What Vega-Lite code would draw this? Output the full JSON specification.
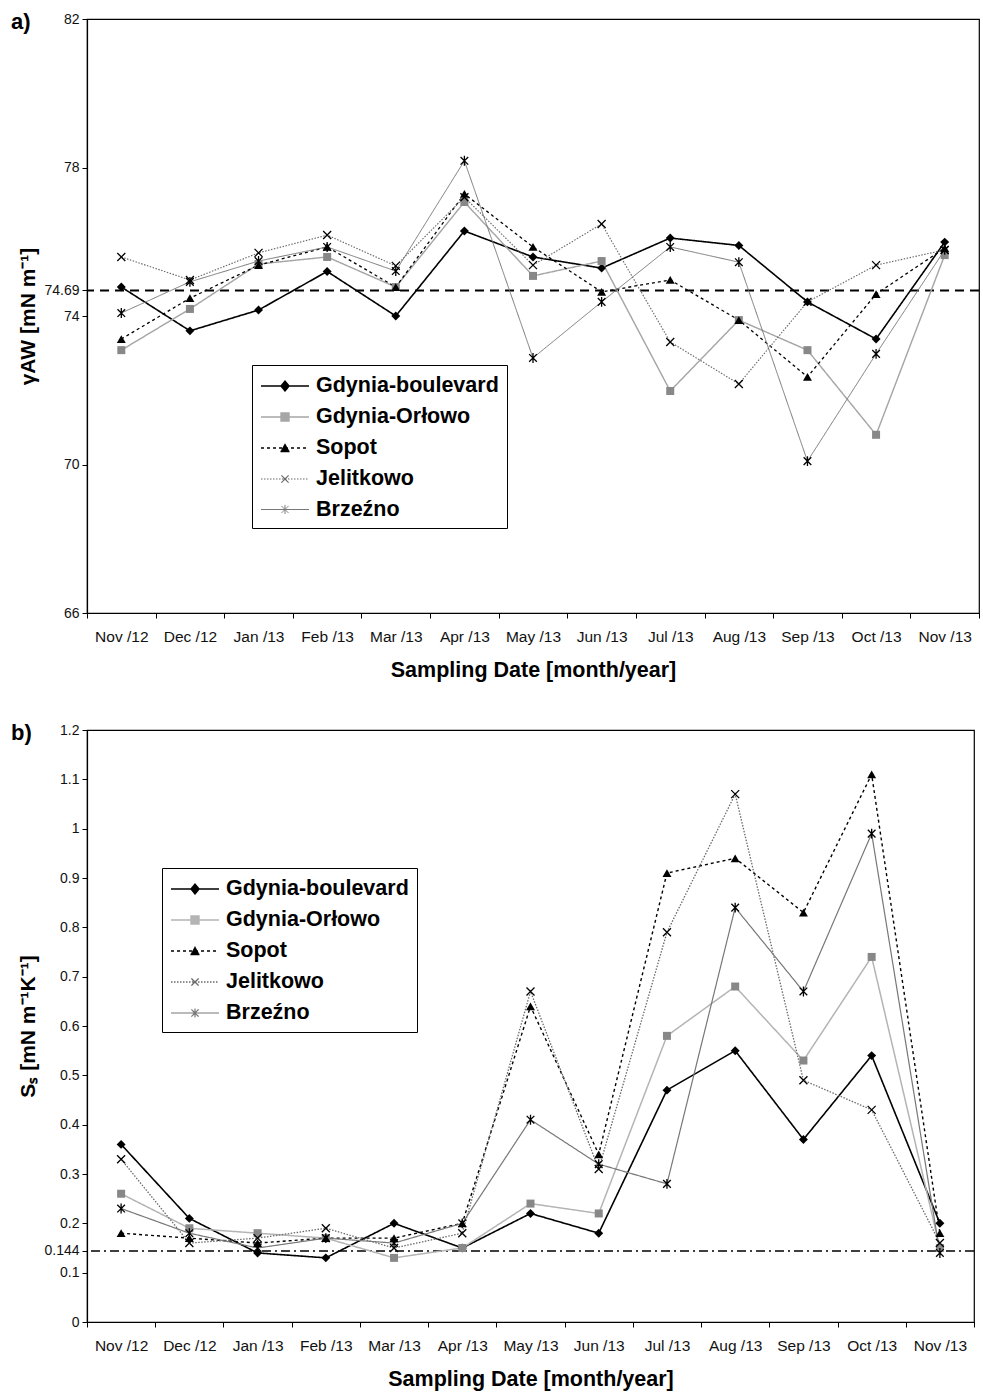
{
  "$schema": "https://vega.github.io/schema/vega-lite/v6.json",
  "padding": {"left": 10, "top": 10, "right": 2, "bottom": 2},
  "background": "white",
  "config": {
    "font": "Liberation Sans",
    "view": {"stroke": "black", "strokeWidth": 1.2},
    "axis": {"grid": false, "domainColor": "black", "domainWidth": 1.2, "tickColor": "black", "tickSize": 5, "labelColor": "#111", "labelFont": "Liberation Sans", "labelFontSize": 14, "titleFont": "Liberation Sans", "titleFontSize": 21, "titleFontWeight": "bold", "titleColor": "black"},
    "axisX": {"labelFontSize": 15.5, "titleFontSize": 21.5},
    "legend": {"orient": "none", "labelFont": "Liberation Sans", "labelFontSize": 21.5, "labelFontWeight": "bold", "labelColor": "black", "labelLimit": 400, "rowPadding": 7, "symbolSize": 576, "symbolOffset": 12, "labelOffset": 18, "padding": 8, "strokeColor": "black", "fillColor": "white"},
    "concat": {"spacing": 39}
  },
  "resolve": {
    "scale": {"color": "independent", "strokeDash": "independent", "strokeWidth": "independent", "shape": "independent", "fill": "independent"},
    "legend": {"color": "independent", "strokeDash": "independent", "strokeWidth": "independent", "shape": "independent", "fill": "independent"}
  },
  "datasets": {
    "a": [
      {"m":"Nov /12","s":"Gdynia-boulevard","v":74.78},{"m":"Dec /12","s":"Gdynia-boulevard","v":73.6},{"m":"Jan /13","s":"Gdynia-boulevard","v":74.16},{"m":"Feb /13","s":"Gdynia-boulevard","v":75.2},{"m":"Mar /13","s":"Gdynia-boulevard","v":74.0},{"m":"Apr /13","s":"Gdynia-boulevard","v":76.29},{"m":"May /13","s":"Gdynia-boulevard","v":75.59},{"m":"Jun /13","s":"Gdynia-boulevard","v":75.29},{"m":"Jul /13","s":"Gdynia-boulevard","v":76.1},{"m":"Aug /13","s":"Gdynia-boulevard","v":75.9},{"m":"Sep /13","s":"Gdynia-boulevard","v":74.38},{"m":"Oct /13","s":"Gdynia-boulevard","v":73.38},{"m":"Nov /13","s":"Gdynia-boulevard","v":75.99},
      {"m":"Nov /12","s":"Gdynia-Orłowo","v":73.08},{"m":"Dec /12","s":"Gdynia-Orłowo","v":74.19},{"m":"Jan /13","s":"Gdynia-Orłowo","v":75.4},{"m":"Feb /13","s":"Gdynia-Orłowo","v":75.59},{"m":"Mar /13","s":"Gdynia-Orłowo","v":74.78},{"m":"Apr /13","s":"Gdynia-Orłowo","v":77.07},{"m":"May /13","s":"Gdynia-Orłowo","v":75.08},{"m":"Jun /13","s":"Gdynia-Orłowo","v":75.48},{"m":"Jul /13","s":"Gdynia-Orłowo","v":71.98},{"m":"Aug /13","s":"Gdynia-Orłowo","v":73.89},{"m":"Sep /13","s":"Gdynia-Orłowo","v":73.08},{"m":"Oct /13","s":"Gdynia-Orłowo","v":70.8},{"m":"Nov /13","s":"Gdynia-Orłowo","v":75.64},
      {"m":"Nov /12","s":"Sopot","v":73.38},{"m":"Dec /12","s":"Sopot","v":74.48},{"m":"Jan /13","s":"Sopot","v":75.37},{"m":"Feb /13","s":"Sopot","v":75.86},{"m":"Mar /13","s":"Sopot","v":74.78},{"m":"Apr /13","s":"Sopot","v":77.29},{"m":"May /13","s":"Sopot","v":75.86},{"m":"Jun /13","s":"Sopot","v":74.65},{"m":"Jul /13","s":"Sopot","v":74.97},{"m":"Aug /13","s":"Sopot","v":73.89},{"m":"Sep /13","s":"Sopot","v":72.36},{"m":"Oct /13","s":"Sopot","v":74.59},{"m":"Nov /13","s":"Sopot","v":75.83},
      {"m":"Nov /12","s":"Jelitkowo","v":75.59},{"m":"Dec /12","s":"Jelitkowo","v":74.97},{"m":"Jan /13","s":"Jelitkowo","v":75.7},{"m":"Feb /13","s":"Jelitkowo","v":76.18},{"m":"Mar /13","s":"Jelitkowo","v":75.35},{"m":"Apr /13","s":"Jelitkowo","v":77.2},{"m":"May /13","s":"Jelitkowo","v":75.37},{"m":"Jun /13","s":"Jelitkowo","v":76.48},{"m":"Jul /13","s":"Jelitkowo","v":73.3},{"m":"Aug /13","s":"Jelitkowo","v":72.17},{"m":"Sep /13","s":"Jelitkowo","v":74.38},{"m":"Oct /13","s":"Jelitkowo","v":75.37},{"m":"Nov /13","s":"Jelitkowo","v":75.78},
      {"m":"Nov /12","s":"Brzeźno","v":74.08},{"m":"Dec /12","s":"Brzeźno","v":74.92},{"m":"Jan /13","s":"Brzeźno","v":75.48},{"m":"Feb /13","s":"Brzeźno","v":75.86},{"m":"Mar /13","s":"Brzeźno","v":75.21},{"m":"Apr /13","s":"Brzeźno","v":78.18},{"m":"May /13","s":"Brzeźno","v":72.87},{"m":"Jun /13","s":"Brzeźno","v":74.38},{"m":"Jul /13","s":"Brzeźno","v":75.86},{"m":"Aug /13","s":"Brzeźno","v":75.45},{"m":"Sep /13","s":"Brzeźno","v":70.09},{"m":"Oct /13","s":"Brzeźno","v":72.98},{"m":"Nov /13","s":"Brzeźno","v":75.78}
    ],
    "b": [
      {"m":"Nov /12","s":"Gdynia-boulevard","v":0.36},{"m":"Dec /12","s":"Gdynia-boulevard","v":0.21},{"m":"Jan /13","s":"Gdynia-boulevard","v":0.14},{"m":"Feb /13","s":"Gdynia-boulevard","v":0.13},{"m":"Mar /13","s":"Gdynia-boulevard","v":0.2},{"m":"Apr /13","s":"Gdynia-boulevard","v":0.15},{"m":"May /13","s":"Gdynia-boulevard","v":0.22},{"m":"Jun /13","s":"Gdynia-boulevard","v":0.18},{"m":"Jul /13","s":"Gdynia-boulevard","v":0.47},{"m":"Aug /13","s":"Gdynia-boulevard","v":0.55},{"m":"Sep /13","s":"Gdynia-boulevard","v":0.37},{"m":"Oct /13","s":"Gdynia-boulevard","v":0.54},{"m":"Nov /13","s":"Gdynia-boulevard","v":0.2},
      {"m":"Nov /12","s":"Gdynia-Orłowo","v":0.26},{"m":"Dec /12","s":"Gdynia-Orłowo","v":0.19},{"m":"Jan /13","s":"Gdynia-Orłowo","v":0.18},{"m":"Feb /13","s":"Gdynia-Orłowo","v":0.17},{"m":"Mar /13","s":"Gdynia-Orłowo","v":0.13},{"m":"Apr /13","s":"Gdynia-Orłowo","v":0.15},{"m":"May /13","s":"Gdynia-Orłowo","v":0.24},{"m":"Jun /13","s":"Gdynia-Orłowo","v":0.22},{"m":"Jul /13","s":"Gdynia-Orłowo","v":0.58},{"m":"Aug /13","s":"Gdynia-Orłowo","v":0.68},{"m":"Sep /13","s":"Gdynia-Orłowo","v":0.53},{"m":"Oct /13","s":"Gdynia-Orłowo","v":0.74},{"m":"Nov /13","s":"Gdynia-Orłowo","v":0.15},
      {"m":"Nov /12","s":"Sopot","v":0.18},{"m":"Dec /12","s":"Sopot","v":0.17},{"m":"Jan /13","s":"Sopot","v":0.16},{"m":"Feb /13","s":"Sopot","v":0.17},{"m":"Mar /13","s":"Sopot","v":0.17},{"m":"Apr /13","s":"Sopot","v":0.2},{"m":"May /13","s":"Sopot","v":0.64},{"m":"Jun /13","s":"Sopot","v":0.34},{"m":"Jul /13","s":"Sopot","v":0.91},{"m":"Aug /13","s":"Sopot","v":0.94},{"m":"Sep /13","s":"Sopot","v":0.83},{"m":"Oct /13","s":"Sopot","v":1.11},{"m":"Nov /13","s":"Sopot","v":0.18},
      {"m":"Nov /12","s":"Jelitkowo","v":0.33},{"m":"Dec /12","s":"Jelitkowo","v":0.16},{"m":"Jan /13","s":"Jelitkowo","v":0.17},{"m":"Feb /13","s":"Jelitkowo","v":0.19},{"m":"Mar /13","s":"Jelitkowo","v":0.15},{"m":"Apr /13","s":"Jelitkowo","v":0.18},{"m":"May /13","s":"Jelitkowo","v":0.67},{"m":"Jun /13","s":"Jelitkowo","v":0.31},{"m":"Jul /13","s":"Jelitkowo","v":0.79},{"m":"Aug /13","s":"Jelitkowo","v":1.07},{"m":"Sep /13","s":"Jelitkowo","v":0.49},{"m":"Oct /13","s":"Jelitkowo","v":0.43},{"m":"Nov /13","s":"Jelitkowo","v":0.16},
      {"m":"Nov /12","s":"Brzeźno","v":0.23},{"m":"Dec /12","s":"Brzeźno","v":0.18},{"m":"Jan /13","s":"Brzeźno","v":0.15},{"m":"Feb /13","s":"Brzeźno","v":0.17},{"m":"Mar /13","s":"Brzeźno","v":0.16},{"m":"Apr /13","s":"Brzeźno","v":0.2},{"m":"May /13","s":"Brzeźno","v":0.41},{"m":"Jun /13","s":"Brzeźno","v":0.32},{"m":"Jul /13","s":"Brzeźno","v":0.28},{"m":"Aug /13","s":"Brzeźno","v":0.84},{"m":"Sep /13","s":"Brzeźno","v":0.67},{"m":"Oct /13","s":"Brzeźno","v":0.99},{"m":"Nov /13","s":"Brzeźno","v":0.14}
    ]
  },
  "vconcat": [
    {
      "width": 892, "height": 594,
      "title": {"text": "a)", "anchor": "start", "frame": "group", "dx": -76, "dy": 26, "fontSize": 22, "fontWeight": "bold", "color": "black", "font": "Liberation Sans"},
      "encoding": {
        "x": {"field": "m", "type": "ordinal", "sort": ["Nov /12","Dec /12","Jan /13","Feb /13","Mar /13","Apr /13","May /13","Jun /13","Jul /13","Aug /13","Sep /13","Oct /13","Nov /13"], "scale": {"type": "band", "paddingInner": 0, "paddingOuter": 0}, "axis": {"title": "Sampling Date [month/year]", "labelAngle": 0, "tickBand": "extent", "labelPadding": 11, "titlePadding": 15}},
        "y": {"field": "v", "type": "quantitative", "scale": {"domain": [66, 82], "nice": false, "zero": false}, "axis": {"values": [66, 70, 74, 74.69, 78, 82], "format": ".2~f", "labelOverlap": false, "title": "γAW [mN m⁻¹]", "titlePadding": 5, "labelPadding": 3}}
      },
      "layer": [
        {
          "data": {"values": [{"ref": 74.69}]},
          "mark": {"type": "rule", "color": "black", "strokeWidth": 2, "strokeDash": [9, 6]},
          "encoding": {"x": null, "y": {"field": "ref", "type": "quantitative"}}
        },
        {
          "data": {"name": "a"},
          "mark": {"type": "line"},
          "encoding": {
            "color": {"field": "s", "type": "nominal", "scale": {"domain": ["Gdynia-boulevard","Gdynia-Orłowo","Sopot","Jelitkowo","Brzeźno"], "range": ["black", "#a6a6a6", "black", "#6a6a6a", "#777777"]},
              "legend": {"title": null, "orient": "none", "legendX": 165, "legendY": 346, "labelLimit": 400}},
            "strokeDash": {"field": "s", "type": "nominal", "scale": {"domain": ["Gdynia-boulevard","Gdynia-Orłowo","Sopot","Jelitkowo","Brzeźno"], "range": [[1, 0], [1, 0], [3, 3], [1.5, 1.5], [1, 0]]}},
            "strokeWidth": {"field": "s", "type": "ordinal", "scale": {"domain": ["Gdynia-boulevard","Gdynia-Orłowo","Sopot","Jelitkowo","Brzeźno"], "range": [1.6, 1, 2.2, 1, 2]}}
          }
        },
        {
          "data": {"name": "a"},
          "mark": {"type": "point", "opacity": 0},
          "encoding": {
            "shape": {"field": "s", "type": "nominal", "scale": {"domain": ["Gdynia-boulevard","Gdynia-Orłowo","Sopot","Jelitkowo","Brzeźno"], "range": [
              "M-2,0L2,0M0,-0.4L0.33,0L0,0.4L-0.33,0ZM-0.055,-0.333L0.055,-0.333M-0.124,-0.25L0.124,-0.25M-0.19,-0.167L0.19,-0.167M-0.26,-0.083L0.26,-0.083M-0.26,0.083L0.26,0.083M-0.19,0.167L0.19,0.167M-0.124,0.25L0.124,0.25M-0.055,0.333L0.055,0.333",
              "M-2,0L2,0M-0.33,-0.33L0.33,-0.33L0.33,0.33L-0.33,0.33ZM-0.33,-0.25L0.33,-0.25M-0.33,-0.167L0.33,-0.167M-0.33,-0.083L0.33,-0.083M-0.33,0.083L0.33,0.083M-0.33,0.167L0.33,0.167M-0.33,0.25L0.33,0.25",
              "M-2,0L2,0M-0.03,-0.33L0.03,-0.33M-0.073,-0.25L0.073,-0.25M-0.117,-0.167L0.117,-0.167M-0.166,-0.083L0,-0.083M0,-0.083L0.166,-0.083M-0.212,0L0,0M0,0L0.212,0M-0.259,0.083L-0.09,0.083M-0.09,0.083L0.09,0.083M0.09,0.083L0.259,0.083M-0.305,0.167L-0.1,0.167M-0.1,0.167L0.1,0.167M0.1,0.167L0.305,0.167M-0.352,0.25L-0.117,0.25M-0.117,0.25L0.117,0.25M0.117,0.25L0.352,0.25M-0.38,0.3L-0.127,0.3M-0.127,0.3L0.127,0.3M0.127,0.3L0.38,0.3",
              "M-2,0L2,0M-0.3,-0.3L-0.214,-0.214M-0.214,-0.214L-0.129,-0.129M-0.129,-0.129L-0.043,-0.043M-0.043,-0.043L0.043,0.043M0.043,0.043L0.129,0.129M0.129,0.129L0.214,0.214M0.214,0.214L0.3,0.3M-0.3,0.3L-0.214,0.214M-0.214,0.214L-0.129,0.129M-0.129,0.129L-0.043,0.043M-0.043,0.043L0.043,-0.043M0.043,-0.043L0.129,-0.129M0.129,-0.129L0.214,-0.214M0.214,-0.214L0.3,-0.3",
              "M-2,0L2,0M-0.3,-0.3L0.3,0.3M-0.3,0.3L0.3,-0.3M0,-0.38L0,0.38"]}}
          }
        },
        {"data": {"name": "a"}, "transform": [{"filter": {"field": "s", "equal": "Gdynia-boulevard"}}], "mark": {"type": "point", "shape": "diamond", "filled": true, "color": "black", "opacity": 1, "size": 80}},
        {"data": {"name": "a"}, "transform": [{"filter": {"field": "s", "equal": "Gdynia-Orłowo"}}], "mark": {"type": "point", "shape": "square", "filled": true, "color": "#888888", "opacity": 1, "size": 64}},
        {"data": {"name": "a"}, "transform": [{"filter": {"field": "s", "equal": "Sopot"}}], "mark": {"type": "point", "shape": "triangle-up", "filled": true, "color": "black", "opacity": 1, "size": 80}},
        {"data": {"name": "a"}, "transform": [{"filter": {"field": "s", "equal": "Jelitkowo"}}], "mark": {"type": "point", "shape": "M-1,-1L1,1M-1,1L1,-1", "filled": false, "color": "black", "strokeWidth": 1.3, "opacity": 1, "size": 64}},
        {"data": {"name": "a"}, "transform": [{"filter": {"field": "s", "equal": "Brzeźno"}}], "mark": {"type": "point", "shape": "M-0.85,-0.85L0.85,0.85M-0.85,0.85L0.85,-0.85M0,-1.1L0,1.1", "filled": false, "color": "black", "strokeWidth": 1.3, "opacity": 1, "size": 81}}
      ]
    },
    {
      "width": 887, "height": 592,
      "title": {"text": "b)", "anchor": "start", "frame": "group", "dx": -76, "dy": 26, "fontSize": 22, "fontWeight": "bold", "color": "black", "font": "Liberation Sans"},
      "encoding": {
        "x": {"field": "m", "type": "ordinal", "sort": ["Nov /12","Dec /12","Jan /13","Feb /13","Mar /13","Apr /13","May /13","Jun /13","Jul /13","Aug /13","Sep /13","Oct /13","Nov /13"], "scale": {"type": "band", "paddingInner": 0, "paddingOuter": 0}, "axis": {"title": "Sampling Date [month/year]", "labelAngle": 0, "tickBand": "extent", "labelPadding": 11, "titlePadding": 15}},
        "y": {"field": "v", "type": "quantitative", "scale": {"domain": [0, 1.2], "nice": false}, "axis": {"values": [0, 0.1, 0.144, 0.2, 0.3, 0.4, 0.5, 0.6, 0.7, 0.8, 0.9, 1, 1.1, 1.2], "format": ".3~f", "labelOverlap": false, "title": "Sₛ [mN m⁻¹K⁻¹]", "titlePadding": 5, "labelPadding": 3}}
      },
      "layer": [
        {
          "data": {"values": [{"ref": 0.144}]},
          "mark": {"type": "rule", "color": "black", "strokeWidth": 1.5, "strokeDash": [9, 4, 2, 4]},
          "encoding": {"x": null, "y": {"field": "ref", "type": "quantitative"}}
        },
        {
          "data": {"name": "b"},
          "mark": {"type": "line"},
          "encoding": {
            "color": {"field": "s", "type": "nominal", "scale": {"domain": ["Gdynia-boulevard","Gdynia-Orłowo","Sopot","Jelitkowo","Brzeźno"], "range": ["black", "#b4b4b4", "black", "#6a6a6a", "#777777"]},
              "legend": {"title": null, "orient": "none", "legendX": 75, "legendY": 138, "labelLimit": 400}},
            "strokeDash": {"field": "s", "type": "nominal", "scale": {"domain": ["Gdynia-boulevard","Gdynia-Orłowo","Sopot","Jelitkowo","Brzeźno"], "range": [[1, 0], [1, 0], [3, 3], [1.5, 1.5], [1, 0]]}},
            "strokeWidth": {"field": "s", "type": "ordinal", "scale": {"domain": ["Gdynia-boulevard","Gdynia-Orłowo","Sopot","Jelitkowo","Brzeźno"], "range": [1.6, 1.2, 2.2, 1, 2]}}
          }
        },
        {
          "data": {"name": "b"},
          "mark": {"type": "point", "opacity": 0},
          "encoding": {
            "shape": {"field": "s", "type": "nominal", "scale": {"domain": ["Gdynia-boulevard","Gdynia-Orłowo","Sopot","Jelitkowo","Brzeźno"], "range": [
              "M-2,0L2,0M0,-0.4L0.33,0L0,0.4L-0.33,0ZM-0.055,-0.333L0.055,-0.333M-0.124,-0.25L0.124,-0.25M-0.19,-0.167L0.19,-0.167M-0.26,-0.083L0.26,-0.083M-0.26,0.083L0.26,0.083M-0.19,0.167L0.19,0.167M-0.124,0.25L0.124,0.25M-0.055,0.333L0.055,0.333",
              "M-2,0L2,0M-0.33,-0.33L0.33,-0.33L0.33,0.33L-0.33,0.33ZM-0.33,-0.25L0.33,-0.25M-0.33,-0.167L0.33,-0.167M-0.33,-0.083L0.33,-0.083M-0.33,0.083L0.33,0.083M-0.33,0.167L0.33,0.167M-0.33,0.25L0.33,0.25",
              "M-2,0L2,0M-0.03,-0.33L0.03,-0.33M-0.073,-0.25L0.073,-0.25M-0.117,-0.167L0.117,-0.167M-0.166,-0.083L0,-0.083M0,-0.083L0.166,-0.083M-0.212,0L0,0M0,0L0.212,0M-0.259,0.083L-0.09,0.083M-0.09,0.083L0.09,0.083M0.09,0.083L0.259,0.083M-0.305,0.167L-0.1,0.167M-0.1,0.167L0.1,0.167M0.1,0.167L0.305,0.167M-0.352,0.25L-0.117,0.25M-0.117,0.25L0.117,0.25M0.117,0.25L0.352,0.25M-0.38,0.3L-0.127,0.3M-0.127,0.3L0.127,0.3M0.127,0.3L0.38,0.3",
              "M-2,0L2,0M-0.3,-0.3L-0.214,-0.214M-0.214,-0.214L-0.129,-0.129M-0.129,-0.129L-0.043,-0.043M-0.043,-0.043L0.043,0.043M0.043,0.043L0.129,0.129M0.129,0.129L0.214,0.214M0.214,0.214L0.3,0.3M-0.3,0.3L-0.214,0.214M-0.214,0.214L-0.129,0.129M-0.129,0.129L-0.043,0.043M-0.043,0.043L0.043,-0.043M0.043,-0.043L0.129,-0.129M0.129,-0.129L0.214,-0.214M0.214,-0.214L0.3,-0.3",
              "M-2,0L2,0M-0.3,-0.3L0.3,0.3M-0.3,0.3L0.3,-0.3M0,-0.38L0,0.38"]}}
          }
        },
        {"data": {"name": "b"}, "transform": [{"filter": {"field": "s", "equal": "Gdynia-boulevard"}}], "mark": {"type": "point", "shape": "diamond", "filled": true, "color": "black", "opacity": 1, "size": 80}},
        {"data": {"name": "b"}, "transform": [{"filter": {"field": "s", "equal": "Gdynia-Orłowo"}}], "mark": {"type": "point", "shape": "square", "filled": true, "color": "#888888", "opacity": 1, "size": 64}},
        {"data": {"name": "b"}, "transform": [{"filter": {"field": "s", "equal": "Sopot"}}], "mark": {"type": "point", "shape": "triangle-up", "filled": true, "color": "black", "opacity": 1, "size": 80}},
        {"data": {"name": "b"}, "transform": [{"filter": {"field": "s", "equal": "Jelitkowo"}}], "mark": {"type": "point", "shape": "M-1,-1L1,1M-1,1L1,-1", "filled": false, "color": "black", "strokeWidth": 1.3, "opacity": 1, "size": 64}},
        {"data": {"name": "b"}, "transform": [{"filter": {"field": "s", "equal": "Brzeźno"}}], "mark": {"type": "point", "shape": "M-0.85,-0.85L0.85,0.85M-0.85,0.85L0.85,-0.85M0,-1.1L0,1.1", "filled": false, "color": "black", "strokeWidth": 1.3, "opacity": 1, "size": 81}}
      ]
    }
  ]
}
